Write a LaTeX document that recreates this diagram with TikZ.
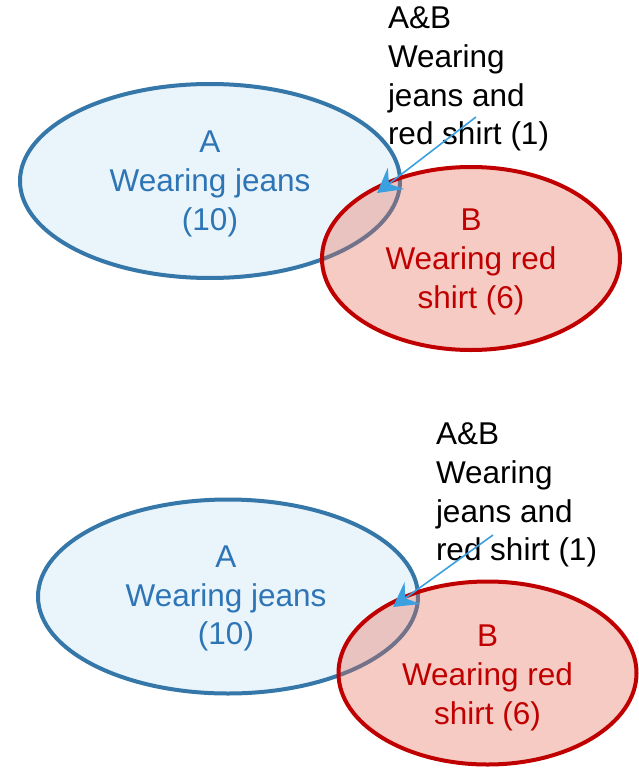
\documentclass[tikz,border=0pt]{standalone}
\usepackage{fontspec}
\setmainfont{Liberation Sans}
\usetikzlibrary{arrows.meta,shapes.geometric}

\definecolor{jeansline}{RGB}{53,119,168}
\definecolor{jeansfill}{RGB}{234,244,251}
\definecolor{jeanstext}{RGB}{46,117,182}
\definecolor{shirtline}{RGB}{192,0,0}
\definecolor{shirtfill}{RGB}{229,106,84}
\definecolor{pointer}{RGB}{58,160,224}

\begin{document}
\begin{tikzpicture}[x=1pt,y=-1pt,
  every node/.style={font=\fontsize{31.5}{38.7}\selectfont, inner sep=0pt, outer sep=0pt},
  setA/.style={ellipse, draw=jeansline, fill=jeansfill, line width=4pt,
    minimum width=380pt, minimum height=194pt},
  setB/.style={ellipse, draw=shirtline, fill=shirtfill, fill opacity=0.35,
    draw opacity=1, line width=4pt,
    minimum width=298pt, minimum height=183pt},
  textA/.style={text=jeanstext, align=center},
  textB/.style={text=shirtline, align=center},
  both/.style={anchor=north west, align=left, text=black},
  callout/.style={draw=pointer, line width=1.6pt,
    -{Stealth[length=24pt, width=27pt, inset=9pt]}}]

\useasboundingbox (0,0) rectangle (639,768);

% upper diagram
\node[setA] (A1) at (210,181) {};
\node[setB] (B1) at (471,258.5) {};
\node[textA] (A1t) at (210,184) {A\\Wearing jeans\\(10)};
\node[textB] (B1t) at (471,262) {B\\Wearing red\\shirt (6)};
\node[both] (AB1) at (388,7) {A\&B\\Wearing\\jeans and\\red shirt (1)};
\coordinate (from1) at (476,117);
\coordinate (to1) at (377,193);
\draw[callout] (from1) -- (to1);

% lower diagram
\node[setA] (A2) at (228,596.5) {};
\node[setB] (B2) at (487.5,673) {};
\node[textA] (A2t) at (226,598.5) {A\\Wearing jeans\\(10)};
\node[textB] (B2t) at (487.5,678) {B\\Wearing red\\shirt (6)};
\node[both] (AB2) at (436,423) {A\&B\\Wearing\\jeans and\\red shirt (1)};
\coordinate (from2) at (493,535);
\coordinate (to2) at (393,607);
\draw[callout] (from2) -- (to2);
\end{tikzpicture}
\end{document}
